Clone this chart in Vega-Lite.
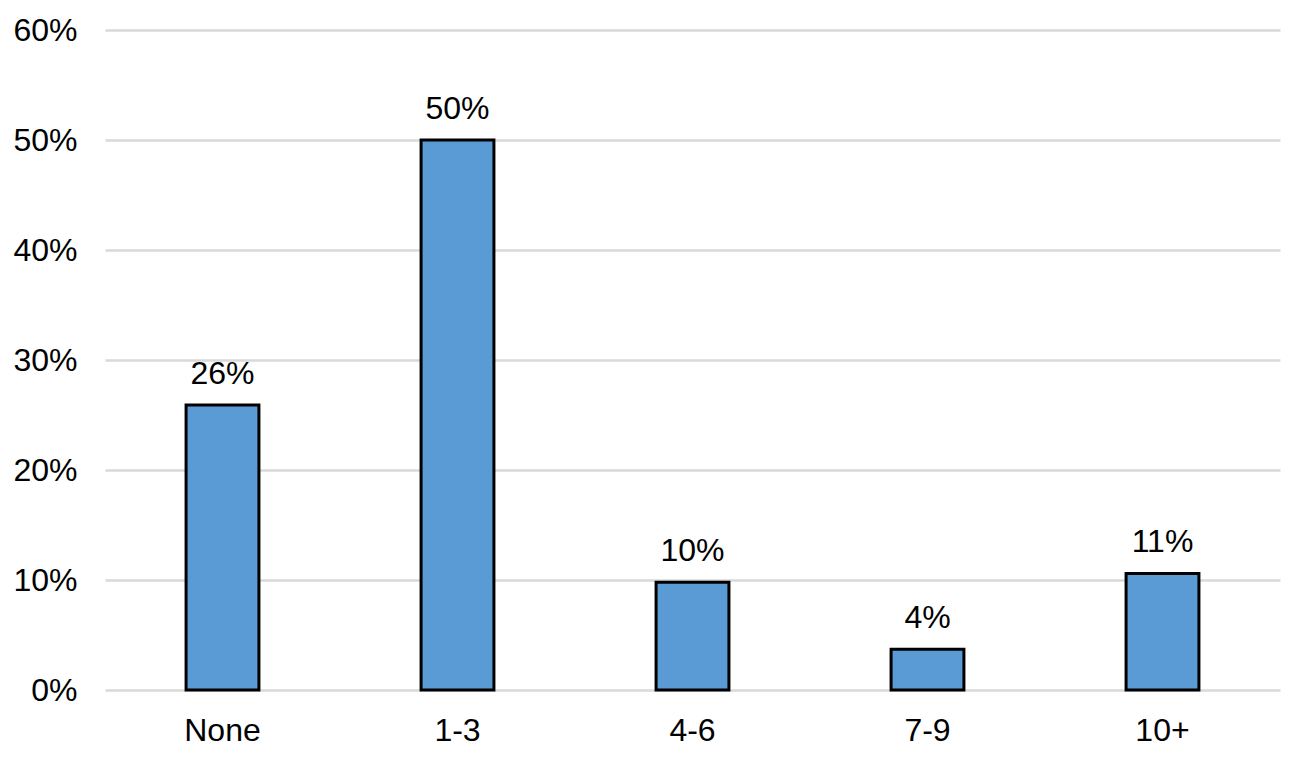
{
  "$schema": "https://vega.github.io/schema/vega-lite/v6.json",
  "width": 1175,
  "height": 660,
  "autosize": {"type": "none"},
  "padding": {"left": 105, "top": 30, "right": 16, "bottom": 70},
  "data": {
    "values": [
      {"visits": "None", "share": 0.259},
      {"visits": "1-3", "share": 0.5},
      {"visits": "4-6", "share": 0.098},
      {"visits": "7-9", "share": 0.037},
      {"visits": "10+", "share": 0.106}
    ]
  },
  "encoding": {
    "x": {
      "field": "visits",
      "type": "nominal",
      "sort": null,
      "title": null,
      "scale": {"paddingInner": 0.69, "paddingOuter": 0.345},
      "axis": {
        "labelAngle": 0,
        "ticks": false,
        "domain": false,
        "labelPadding": 25,
        "labelFontSize": 32
      }
    },
    "y": {
      "field": "share",
      "type": "quantitative",
      "title": null,
      "scale": {"domain": [0, 0.6]},
      "axis": {
        "format": ".0%",
        "values": [0, 0.1, 0.2, 0.3, 0.4, 0.5, 0.6],
        "ticks": false,
        "domain": false,
        "labelPadding": 28,
        "labelFontSize": 32,
        "gridColor": "#d9d9d9",
        "gridWidth": 2.5
      }
    }
  },
  "layer": [
    {
      "mark": {"type": "bar", "color": "#5b9bd5", "stroke": "#000000", "strokeWidth": 3}
    },
    {
      "mark": {"type": "text", "baseline": "alphabetic", "dy": -21, "fontSize": 32, "color": "#000000"},
      "encoding": {
        "text": {"field": "share", "type": "quantitative", "format": ".0%"}
      }
    }
  ],
  "config": {
    "font": "Liberation Sans",
    "axis": {"labelColor": "#000000", "labelFont": "Liberation Sans"},
    "view": {"stroke": null}
  }
}
